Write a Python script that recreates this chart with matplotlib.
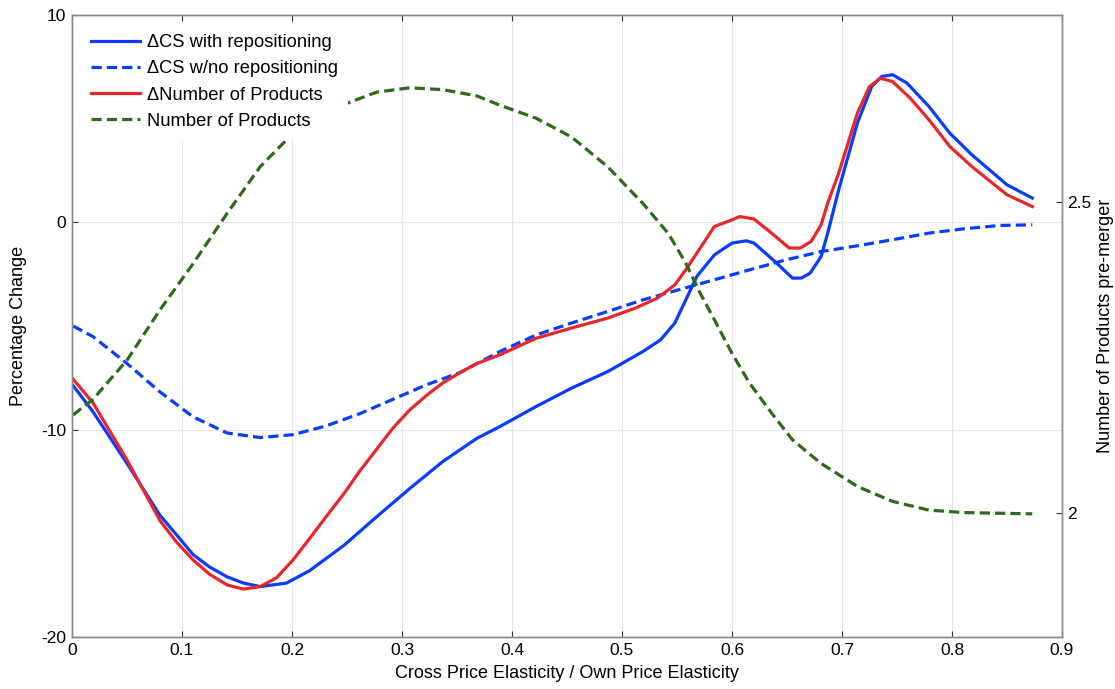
import matplotlib
matplotlib.use("Agg")
import matplotlib.pyplot as plt

plt.rcParams['font.family'] = ['Liberation Sans', 'DejaVu Sans']
plt.rcParams['axes.unicode_minus'] = False

# --- Data ---
x_cs = [0.001, 0.019, 0.050, 0.080, 0.095, 0.110, 0.125, 0.141, 0.156, 0.171, 0.195,
        0.216, 0.247, 0.277, 0.307, 0.337, 0.368, 0.389, 0.422, 0.454, 0.487, 0.519,
        0.535, 0.548, 0.558, 0.568, 0.584, 0.600, 0.613, 0.620, 0.639, 0.655, 0.663,
        0.671, 0.681, 0.687, 0.697, 0.714, 0.727, 0.736, 0.746, 0.759, 0.779, 0.798,
        0.818, 0.850, 0.873]
cs_repo = [-7.87, -9.13, -11.63, -14.13, -15.07, -16.02, -16.62, -17.10, -17.40, -17.57, -17.40,
           -16.80, -15.59, -14.20, -12.84, -11.54, -10.42, -9.85, -8.88, -8.00, -7.20, -6.23,
           -5.67, -4.86, -3.74, -2.61, -1.57, -1.00, -0.89, -1.00, -1.89, -2.69, -2.69,
           -2.45, -1.65, -0.52, 1.57, 4.79, 6.55, 7.03, 7.12, 6.72, 5.59, 4.30,
           3.26, 1.81, 1.17]

x_norepo = [0.001, 0.019, 0.050, 0.080, 0.110, 0.141, 0.171, 0.201, 0.231, 0.262, 0.292,
            0.322, 0.353, 0.389, 0.422, 0.454, 0.487, 0.519, 0.551, 0.584, 0.616, 0.649,
            0.681, 0.714, 0.746, 0.779, 0.811, 0.844, 0.873]
cs_norepo = [-5.00, -5.51, -6.81, -8.18, -9.38, -10.16, -10.38, -10.24, -9.82, -9.22, -8.53,
             -7.84, -7.24, -6.23, -5.43, -4.86, -4.30, -3.74, -3.26, -2.77, -2.29, -1.81,
             -1.41, -1.13, -0.84, -0.52, -0.31, -0.15, -0.12]

x_dnum = [0.001, 0.019, 0.050, 0.080, 0.095, 0.110, 0.125, 0.141, 0.156, 0.171, 0.186,
          0.201, 0.216, 0.231, 0.247, 0.262, 0.277, 0.292, 0.307, 0.322, 0.337, 0.353,
          0.368, 0.389, 0.422, 0.454, 0.487, 0.512, 0.532, 0.548, 0.558, 0.568, 0.584,
          0.600, 0.607, 0.620, 0.636, 0.652, 0.662, 0.672, 0.681, 0.687, 0.697, 0.714,
          0.725, 0.735, 0.746, 0.762, 0.779, 0.798, 0.818, 0.850, 0.873]
d_num = [-7.56, -8.70, -11.46, -14.39, -15.42, -16.28, -16.97, -17.49, -17.69, -17.57, -17.14,
         -16.28, -15.25, -14.20, -13.10, -11.97, -10.94, -9.91, -9.05, -8.36, -7.75, -7.24,
         -6.81, -6.39, -5.59, -5.10, -4.62, -4.14, -3.66, -3.02, -2.29, -1.49, -0.20,
         0.12, 0.28, 0.16, -0.52, -1.24, -1.24, -0.92, -0.12, 0.93, 2.37, 5.27,
         6.55, 6.95, 6.79, 5.99, 4.95, 3.66, 2.69, 1.33, 0.76]

x_num = [0.001, 0.019, 0.050, 0.080, 0.110, 0.141, 0.171, 0.201, 0.247, 0.277, 0.307,
         0.337, 0.368, 0.389, 0.422, 0.454, 0.487, 0.519, 0.542, 0.558, 0.571, 0.584,
         0.600, 0.616, 0.636, 0.655, 0.681, 0.714, 0.746, 0.779, 0.811, 0.873]
num_products = [2.157, 2.182, 2.245, 2.326, 2.400, 2.481, 2.556, 2.610, 2.656, 2.676, 2.683,
                2.680, 2.670, 2.655, 2.634, 2.604, 2.556, 2.497, 2.449, 2.401, 2.353, 2.310,
                2.256, 2.208, 2.160, 2.117, 2.079, 2.042, 2.018, 2.004, 2.000, 1.998]

labels = ['\u0394CS with repositioning', '\u0394CS w/no repositioning',
          '\u0394Number of Products', 'Number of Products']
left_ticks = [-20, -10, 0, 10]
right_ticks = [2, 2.5]
right_ticklabels = ['2', '2.5']
x_ticks = [0, 0.1, 0.2, 0.3, 0.4, 0.5, 0.6, 0.7, 0.8, 0.9]
x_ticklabels = ['0', '0.1', '0.2', '0.3', '0.4', '0.5', '0.6', '0.7', '0.8', '0.9']

# --- Styling ---
BLUE = '#0a3cff'
RED = '#e8272b'
GREEN = '#2f6a1b'
SPINE = '#8a8a8a'
LW = 2.3

fig = plt.figure(figsize=(11.15, 6.89), dpi=100)
ax = fig.add_axes([72/1115, 1-637/689, (1062-72)/1115, (637-15)/689])

l1, = ax.plot(x_cs, cs_repo, color=BLUE, lw=LW, label=labels[0])
l2, = ax.plot(x_norepo, cs_norepo, color=BLUE, lw=LW, ls=(0, (3.2, 1.6)), label=labels[1])
l3, = ax.plot(x_dnum, d_num, color=RED, lw=LW, label=labels[2])

ax.set_xlim(0, 0.9)
ax.set_ylim(-20, 10)
ax.set_xticks(x_ticks)
ax.set_xticklabels(x_ticklabels)
ax.set_yticks(left_ticks)
ax.grid(True, color='#e6e6e6', lw=0.8)
ax.set_axisbelow(True)
ax.tick_params(direction='in', length=4, width=0.8, color='#333333',
               labelsize=12.5, top=True, right=True, pad=4)
for s in ax.spines.values():
    s.set_color(SPINE)
    s.set_linewidth(1.0)
ax.set_xlabel('Cross Price Elasticity / Own Price Elasticity', fontsize=13, labelpad=5)
ax.set_ylabel('Percentage Change', fontsize=13, labelpad=10)

ax2 = ax.twinx()
l4, = ax2.plot(x_num, num_products, color=GREEN, lw=LW, ls=(0, (3.2, 1.6)), label=labels[3])
ax2.set_ylim(1.8, 2.8)
ax2.set_yticks(right_ticks)
ax2.set_yticklabels(right_ticklabels)
ax2.tick_params(direction='in', length=4, width=0.8, color='#333333', labelsize=12.5, pad=4)
for s in ax2.spines.values():
    s.set_color(SPINE)
    s.set_linewidth(1.0)
ax2.set_ylabel('Number of Products pre-merger', fontsize=13, labelpad=4)

leg = ax2.legend(handles=[l1, l2, l3, l4], loc='upper left', fontsize=13.2,
                 frameon=True, facecolor='white', edgecolor='none', framealpha=1,
                 handlelength=2.65, handletextpad=0.4, labelspacing=0.5,
                 borderaxespad=0.5, borderpad=0.55, fancybox=False)

fig.savefig('out.png', dpi=100)
